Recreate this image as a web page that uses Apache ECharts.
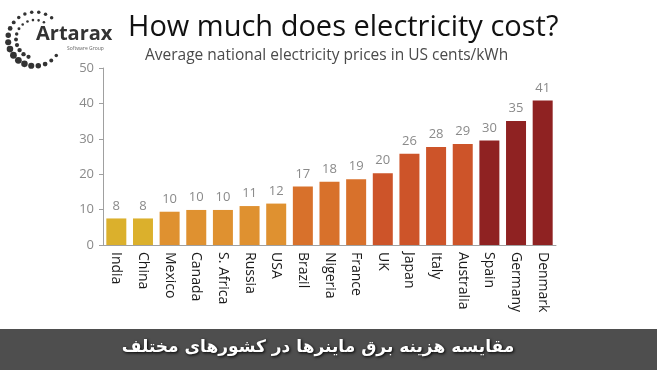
<!DOCTYPE html>
<html><head><meta charset="utf-8">
<script src="https://cdn.jsdelivr.net/npm/echarts@6/dist/echarts.min.js"></script>
<style>html,body{margin:0;padding:0;background:#fff}#c{width:657px;height:370px}</style>
</head><body><div id="c"></div>
<script>
const categories = ["India","China","Mexico","Canada","S. Africa","Russia","USA","Brazil","Nigeria","France","UK","Japan","Italy","Australia","Spain","Germany","Denmark"];
const prices = [7.5,7.5,9.4,9.9,9.9,11.0,11.7,16.5,17.9,18.6,20.3,25.8,27.7,28.5,29.5,35.0,40.8];
const priceLabels = [8,8,10,10,10,11,12,17,18,19,20,26,28,29,30,35,41];
const yTicks = [0,10,20,30,40,50];
const titleText = "How much does electricity cost?";
const subtitleText = "Average national electricity prices in US cents/kWh";
const bannerText = "مقایسه هزینه برق ماینرها در کشورهای مختلف";

// style: colour group per category index
const groupColors = ["#dbb02c","#df9130","#d8712b","#cd5429","#8f2222"];
const groupOf = [0,0,1,1,1,1,1,2,2,2,3,3,3,3,4,4,4];

const chart = echarts.init(document.getElementById('c'));

// decorative logo dots along arcs
const logoDots = [];
(function(){
  const cx = 35, cy = 39;
  const rings = [
    {r:27, start:-52, end:-322, n:19, big:3.4, small:1.2},
    {r:19, start:-62, end:-250, n:12, big:2.2, small:1.0}
  ];
  rings.forEach(g => {
    for (let i = 0; i < g.n; i++) {
      const deg = g.start + (g.end - g.start) * i / (g.n - 1);
      const a = deg * Math.PI / 180;
      const w = Math.max(0, Math.cos((deg + 225) * Math.PI / 180));
      const size = g.small + (g.big - g.small) * (0.25 + 0.75 * w);
      logoDots.push({type:'circle', shape:{cx: cx + g.r*Math.cos(a), cy: cy + g.r*Math.sin(a), r: size}, style:{fill:'#333'}, silent:true});
    }
  });
})();

chart.setOption({
  animation:false,
  backgroundColor:'#fff',
  grid:{left:103, right:101, top:68, bottom:125, containLabel:false},
  xAxis:{
    type:'category', data:categories,
    axisLine:{lineStyle:{color:'#a0a0a0'}},
    axisTick:{alignWithLabel:false, length:4, lineStyle:{color:'#a0a0a0'}},
    axisLabel:{rotate:-90, color:'#1a1a1a', fontFamily:'Open Sans', fontSize:14, margin:7, interval:0}
  },
  yAxis:{
    type:'value', min:0, max:50, interval:10,
    axisLine:{show:true, lineStyle:{color:'#a0a0a0'}},
    axisTick:{show:true, length:4, lineStyle:{color:'#a0a0a0'}},
    splitLine:{show:false},
    axisLabel:{color:'#8a8a8a', fontFamily:'Open Sans', fontSize:13, margin:9,
      formatter: v => yTicks.includes(v) ? String(v) : ''}
  },
  series:[{
    type:'bar',
    data: prices.map((v,i)=>({value:v, itemStyle:{color:groupColors[groupOf[i]]}})),
    barWidth:20,
    label:{show:true, position:'top', distance:6, color:'#8a8a8a', fontFamily:'Open Sans', fontSize:13,
      formatter: p => String(priceLabels[p.dataIndex])}
  }],
  graphic:[
    {type:'text', left:128, top:13, style:{text:titleText, fill:'#111', font:'29px "Open Sans"'}},
    {type:'text', left:145, top:48, style:{text:subtitleText, fill:'#4a4a4a', font:'15.5px "Open Sans"'}},
    {type:'text', left:36, top:24, style:{text:'Artarax', fill:'#333', font:'bold 20px "Open Sans"'}},
    {type:'text', left:67, top:46, style:{text:'Software Group', fill:'#666', font:'5px "Open Sans"'}},
    {type:'rect', shape:{x:0, y:329, width:657, height:41}, style:{fill:'#4e4e4e'}, silent:true},
    {type:'text', x:318, y:348, style:{text:bannerText, fill:'#fff', font:'bold 17px "DejaVu Sans"', align:'center', verticalAlign:'middle',
      textShadowColor:'#000', textShadowBlur:3, textShadowOffsetX:1, textShadowOffsetY:1}},
    ...logoDots
  ]
});
</script></body></html>
